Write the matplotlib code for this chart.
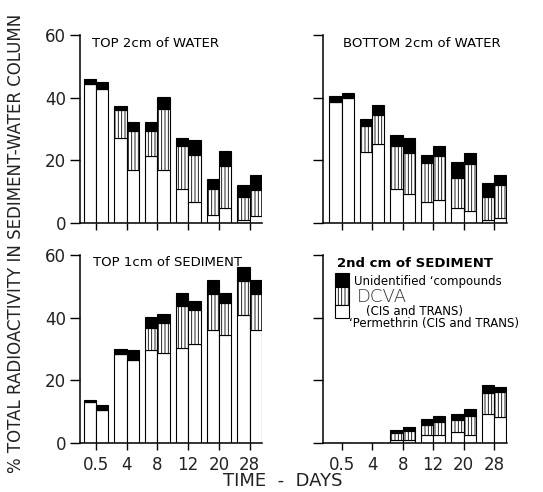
import matplotlib
matplotlib.use("Agg")
import matplotlib.pyplot as plt
from matplotlib.patches import Rectangle
import numpy as np

days = ["0.5", "4", "8", "12", "20", "28"]

# each panel: two replicate bars per time; values are cumulative tops
# (permethrin top, dcva top, total top)
tw_perm  = [[44.4, 27.1, 21.5, 10.9, 2.7, 1.1], [42.9, 17.0, 16.8, 6.8, 4.7, 2.1]]
tw_dcva  = [[44.4, 36.2, 29.3, 24.5, 10.9, 8.2], [42.9, 29.3, 36.4, 21.8, 18.3, 10.6]]
tw_total = [[46.0, 37.4, 32.1, 27.1, 14.0, 12.2], [44.9, 32.1, 40.1, 26.4, 22.9, 15.3]]

bw_perm  = [[38.7, 22.6, 10.8, 6.7, 4.8, 0.9], [40.0, 25.3, 9.1, 7.2, 3.8, 1.6]]
bw_dcva  = [[38.7, 31.0, 24.7, 19.1, 14.5, 8.3], [40.0, 34.6, 22.4, 21.3, 18.8, 12.0]]
bw_total = [[40.5, 33.3, 28.0, 21.7, 19.4, 12.7], [41.6, 37.6, 27.1, 24.7, 22.4, 15.3]]

ts_perm  = [[13.1, 28.5, 29.8, 30.4, 36.0, 40.7], [10.6, 26.4, 28.7, 31.7, 34.6, 36.0]]
ts_dcva  = [[13.1, 28.5, 36.8, 43.6, 47.7, 51.7], [10.6, 26.4, 38.3, 42.3, 44.7, 47.7]]
ts_total = [[13.8, 30.1, 40.2, 47.9, 52.1, 56.2], [12.0, 29.8, 41.1, 45.3, 47.9, 52.1]]

ss_perm  = [[0, 0, 1.1, 2.5, 3.5, 9.2], [0, 0, 0.9, 2.5, 2.5, 8.3]]
ss_dcva  = [[0, 0, 3.2, 5.7, 7.3, 16.0], [0, 0, 3.9, 6.7, 8.6, 16.4]]
ss_total = [[0, 0, 4.3, 7.8, 9.4, 18.4], [0, 0, 5.1, 8.7, 10.7, 18.0]]

titles = ["TOP 2cm of WATER", "BOTTOM 2cm of WATER",
          "TOP 1cm of SEDIMENT", "2nd cm of SEDIMENT"]
panels = [(tw_perm, tw_dcva, tw_total), (bw_perm, bw_dcva, bw_total),
          (ts_perm, ts_dcva, ts_total), (ss_perm, ss_dcva, ss_total)]

plt.rcParams['hatch.linewidth'] = 0.6
plt.rcParams['font.family'] = ['DejaVu Sans']

W, H = 543, 492
fig = plt.figure(figsize=(W / 100, H / 100), dpi=100)

def fx(px):
    return px / W

def fy(py):
    return 1 - py / H

boxes = [(80, 262, 35, 223), (323, 507, 35, 223),
         (80, 262, 255, 443), (323, 507, 255, 443)]
xlims = [(-0.52, 5.4), (-0.61, 5.42), (-0.52, 5.4), (-0.61, 5.42)]
title_xy = [(0.066, 0.955), (0.11, 0.955), (0.07, 0.96), (0.076, 0.955)]
HATCH = "|||||"

bw = 0.4
x = np.arange(len(days))
for k, (perm, dcva, total) in enumerate(panels):
    l, r, t, b = boxes[k]
    ax = fig.add_axes([fx(l), fy(b), fx(r) - fx(l), fy(t) - fy(b)])
    for j, off in enumerate([-bw / 2, bw / 2]):
        p = np.array(perm[j]); d = np.array(dcva[j]); tt = np.array(total[j])
        ax.bar(x + off, p, bw, color="white", edgecolor="black", linewidth=0.8)
        ax.bar(x + off, d - p, bw, bottom=p, color="white", edgecolor="black",
               linewidth=0.8, hatch=HATCH)
        ax.bar(x + off, tt - d, bw, bottom=d, color="black", edgecolor="black",
               linewidth=0.8)
    ax.set_ylim(0, 60)
    ax.set_xlim(*xlims[k])
    ax.set_yticks([0, 20, 40, 60])
    ax.set_xticks(x)
    for s in ["top", "right"]:
        ax.spines[s].set_visible(False)
    for s in ["left", "bottom"]:
        ax.spines[s].set_linewidth(1.1)
    ax.tick_params(axis="y", direction="out", length=7, width=1.0, labelsize=12,
                   pad=3, labelcolor="#222222")
    ax.tick_params(axis="x", direction="out", length=5, width=1.0, labelsize=12,
                   pad=4, labelcolor="#222222")
    if k in (1, 3):
        ax.set_yticklabels([])
    if k in (0, 1):
        ax.set_xticklabels([])
    else:
        ax.set_xticklabels(days)
    ax.text(title_xy[k][0], title_xy[k][1], titles[k], transform=ax.transAxes,
            fontsize=9.5, fontweight="bold" if k == 3 else "normal",
            va="center", ha="left")

# legend drawn in the bottom-right panel area
legx0, legx1 = 335, 349
segs = [(273, 287, "black", None), (287, 305, "white", HATCH), (305, 318, "white", None)]
for y0, y1, col, hat in segs:
    fig.add_artist(Rectangle((fx(legx0), fy(y1)), fx(legx1) - fx(legx0),
                             fy(y0) - fy(y1), transform=fig.transFigure,
                             facecolor=col, edgecolor="black", linewidth=0.8,
                             hatch=hat))
fig.text(fx(354), fy(281), "Unidentified \u2018compounds", fontsize=8.5, va="center")
fig.text(fx(357), fy(297), "DCVA", fontsize=13, va="center", fontweight="light",
         color="#333333")
fig.text(fx(366), fy(311), "(CIS and TRANS)", fontsize=8.5, va="center")
fig.text(fx(349), fy(324), "\u2018Permethrin (CIS and TRANS)", fontsize=8.5, va="center")

fig.text(fx(16), fy(243), "% TOTAL RADIOACTIVITY IN SEDIMENT-WATER COLUMN",
         rotation=90, fontsize=12, va="center", ha="center", color="#222222")
fig.text(fx(283), fy(481), "TIME  -  DAYS", fontsize=13, va="center", ha="center",
         color="#222222")

fig.savefig("out.png", dpi=100)
